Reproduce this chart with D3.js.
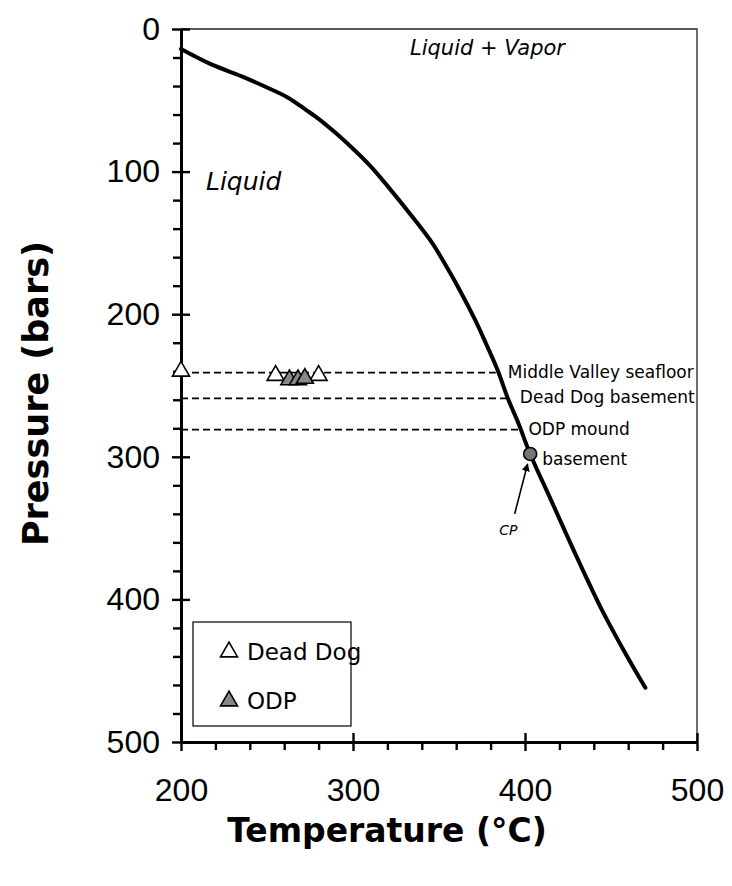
<!DOCTYPE html>
<html>
<head>
<meta charset="utf-8">
<script src="https://cdn.jsdelivr.net/npm/d3@7"></script>
<style>
  html, body { margin: 0; padding: 0; background: #fff; }
  svg { display: block; }
</style>
</head>
<body>
<svg id="chart" width="732" height="886"></svg>
<script>
// Two-phase boundary of seawater (temperature °C, pressure bars)
const boundaryT = [200, 218, 235, 250, 262, 273, 280, 290, 300, 310, 320, 336, 346, 355, 362, 371, 376, 384, 390, 396, 403, 415, 430, 445, 458, 470];
const boundaryP = [14, 25, 33, 41, 48, 57, 63, 73, 84, 96, 110, 134, 150, 168, 183, 204, 217, 239, 259, 276, 298, 330, 370, 408, 437, 462];

// Vent fluid measurements
const deadDogT = [200, 255, 280];
const deadDogP = [240, 243, 243];
const odpT = [263, 268, 272];
const odpP = [246, 246, 245];

// Reference pressures (bars)
const levelNames = ["Middle Valley seafloor", "Dead Dog basement", "ODP mound"];
const levelP = [241, 259, 281];
const levelEndT = [383, 389, 397];

// Critical point
const cpT = [403];
const cpP = [298];

const xMajor = [200, 300, 400, 500];
const yMajor = [0, 100, 200, 300, 400, 500];

const svg = d3.select("#chart");
const x = d3.scaleLinear().domain([200, 500]).range([181, 697]);
const y = d3.scaleLinear().domain([0, 500]).range([29, 742]);

const minorX = d3.range(200, 501, 20).filter(v => v % 100 !== 0);
const minorY = d3.range(0, 501, 20).filter(v => v % 100 !== 0);

const tickFont = "'Liberation Sans', Arial, sans-serif";
const handFont = "'DejaVu Sans', sans-serif";

// frame (top and right)
svg.append("path")
  .attr("d", `M${x(200)},${y(0)}H${x(500)}V${y(500)}`)
  .attr("fill", "none").attr("stroke", "#222").attr("stroke-width", 1.3);

function styleAxis(g) {
  g.select(".domain").attr("stroke", "#000").attr("stroke-width", 2.6);
  g.selectAll(".tick line").attr("stroke", "#000").attr("stroke-width", 2.4);
  g.selectAll(".tick text").attr("fill", "#000")
    .style("font-family", tickFont).style("font-size", "32px");
}

// x axis
const xb = y(500);
svg.append("g").attr("transform", `translate(0,${xb})`)
  .call(d3.axisBottom(x).tickValues(minorX).tickSize(8).tickFormat("").tickSizeOuter(0))
  .call(styleAxis);
svg.append("g").attr("transform", `translate(0,${xb})`)
  .call(d3.axisTop(x).tickValues(xMajor).tickSize(9).tickFormat("").tickSizeOuter(0))
  .call(styleAxis);
svg.append("g").attr("transform", `translate(0,${xb})`)
  .call(d3.axisBottom(x).tickValues(xMajor).tickSize(9).tickPadding(27).tickSizeOuter(0))
  .call(styleAxis);

// y axis
const yl = x(200);
svg.append("g").attr("transform", `translate(${yl},0)`)
  .call(d3.axisLeft(y).tickValues(minorY).tickSize(8).tickFormat("").tickSizeOuter(0))
  .call(styleAxis);
svg.append("g").attr("transform", `translate(${yl},0)`)
  .call(d3.axisRight(y).tickValues(yMajor).tickSize(9).tickFormat("").tickSizeOuter(0))
  .call(styleAxis);
svg.append("g").attr("transform", `translate(${yl},0)`)
  .call(d3.axisLeft(y).tickValues(yMajor).tickSize(9).tickPadding(12).tickSizeOuter(0))
  .call(styleAxis);

// axis titles
svg.append("text")
  .attr("x", 387).attr("y", 842)
  .attr("text-anchor", "middle")
  .style("font-family", handFont).style("font-weight", "bold").style("font-size", "33px")
  .text("Temperature (°C)");
svg.append("text")
  .attr("transform", `translate(48,${(y(0) + y(500)) / 2 + 8}) rotate(-90)`)
  .attr("text-anchor", "middle")
  .style("font-family", handFont).style("font-weight", "bold").style("font-size", "35px")
  .text("Pressure (bars)");

// reference pressure levels
levelP.forEach((p, i) => {
  svg.append("line")
    .attr("x1", x(200)).attr("x2", x(levelEndT[i]))
    .attr("y1", y(p)).attr("y2", y(p))
    .attr("stroke", "#000").attr("stroke-width", 1.8)
    .attr("stroke-dasharray", "7,4");
});

// boundary curve
const boundary = boundaryT.map((t, i) => [t, boundaryP[i]]);
svg.append("path")
  .datum(boundary)
  .attr("fill", "none").attr("stroke", "#000").attr("stroke-width", 4)
  .attr("stroke-linejoin", "round").attr("stroke-linecap", "round")
  .attr("d", d3.line().x(d => x(d[0])).y(d => y(d[1])).curve(d3.curveCatmullRom));

// level labels
const labelStyle = s => s.style("font-family", handFont).style("font-size", "17px").attr("fill", "#000");
svg.append("text").attr("x", x(390)).attr("y", y(241) + 5).call(labelStyle).text(levelNames[0]);
svg.append("text").attr("x", x(397)).attr("y", y(259) + 5).call(labelStyle).text(levelNames[1]);
svg.append("text").attr("x", x(402)).attr("y", y(281) + 5).call(labelStyle).text(levelNames[2]);
svg.append("text").attr("x", x(410)).attr("y", y(302) + 5).call(labelStyle).text("basement");

// region labels
svg.append("text").attr("x", 410).attr("y", 55)
  .style("font-family", handFont).style("font-style", "italic").style("font-size", "21px")
  .text("Liquid + Vapor");
svg.append("text").attr("x", 206).attr("y", 190)
  .style("font-family", handFont).style("font-style", "italic").style("font-size", "25px")
  .text("Liquid");

// triangles
const tri = d3.symbol().type(d3.symbolTriangle).size(125);
function triangles(ts, ps, fill) {
  svg.append("g").selectAll("path").data(ts.map((t, i) => [t, ps[i]])).join("path")
    .attr("transform", d => `translate(${x(d[0])},${y(d[1])})`)
    .attr("d", tri)
    .attr("fill", fill).attr("stroke", "#000").attr("stroke-width", 1.6);
}
triangles(deadDogT, deadDogP, "#fff");
triangles(odpT, odpP, "#888");

// critical point
svg.append("circle").attr("cx", x(cpT[0])).attr("cy", y(cpP[0])).attr("r", 6.5)
  .attr("fill", "#777").attr("stroke", "#000").attr("stroke-width", 1.6);
svg.append("defs").append("marker")
  .attr("id", "arrow").attr("viewBox", "0 0 10 10").attr("refX", 9).attr("refY", 5)
  .attr("markerWidth", 5).attr("markerHeight", 5).attr("orient", "auto")
  .append("path").attr("d", "M0,0L10,5L0,10Z").attr("fill", "#000");
svg.append("line")
  .attr("x1", x(394)).attr("y1", y(340))
  .attr("x2", x(401.5)).attr("y2", y(305))
  .attr("stroke", "#000").attr("stroke-width", 1.6).attr("marker-end", "url(#arrow)");
svg.append("text").attr("x", x(385)).attr("y", y(355))
  .style("font-family", handFont).style("font-style", "italic").style("font-size", "14px")
  .text("CP");

// legend
svg.append("rect").attr("x", 193).attr("y", 622).attr("width", 158).attr("height", 104)
  .attr("fill", "#fff").attr("stroke", "#000").attr("stroke-width", 1.2);
svg.append("path").attr("transform", "translate(229,652)").attr("d", tri)
  .attr("fill", "#fff").attr("stroke", "#000").attr("stroke-width", 1.6);
svg.append("path").attr("transform", "translate(229,701)").attr("d", tri)
  .attr("fill", "#888").attr("stroke", "#000").attr("stroke-width", 1.6);
svg.append("text").attr("x", 247).attr("y", 660)
  .style("font-family", handFont).style("font-size", "23px").text("Dead Dog");
svg.append("text").attr("x", 247).attr("y", 709)
  .style("font-family", handFont).style("font-size", "23px").text("ODP");
</script>
</body>
</html>
